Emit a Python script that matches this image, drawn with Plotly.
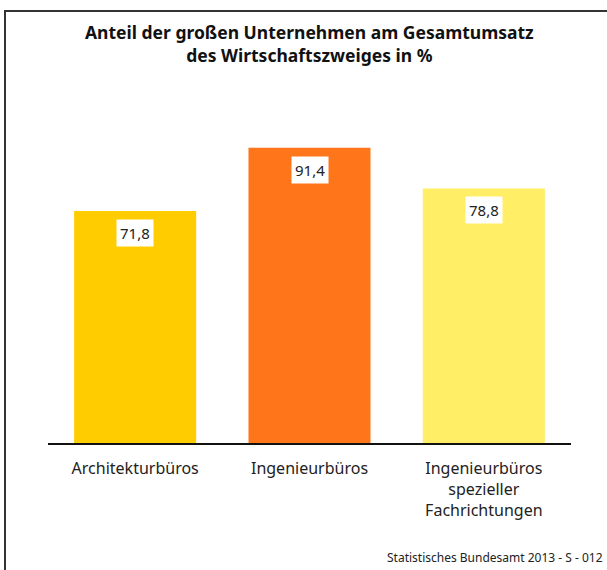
import plotly.graph_objects as go

categories = ["Architekturbüros", "Ingenieurbüros", "Ingenieurbüros<br>spezieller<br>Fachrichtungen"]
values = [71.8, 91.4, 78.8]
value_labels = ["71,8", "91,4", "78,8"]
colors = ["#FFCC00", "#FF761A", "#FFEE66"]

FONT = "Noto Sans"

fig = go.Figure()
fig.add_trace(go.Bar(
    x=categories, y=values, marker=dict(color=colors, line=dict(width=0)),
    width=0.7, hoverinfo="skip",
))

for c, v, t in zip(categories, values, value_labels):
    fig.add_annotation(
        x=c, y=v, xref="x", yref="y", text=t, showarrow=False,
        yanchor="top", yshift=-8, bgcolor="white", borderpad=3,
        font=dict(family=FONT, size=15, color="#222"),
    )

fig.add_annotation(
    x=0.5, y=(443 - 18) / 323, xref="paper", yref="paper",
    text="<b>Anteil der großen Unternehmen am Gesamtumsatz<br>des Wirtschaftszweiges in %</b>",
    showarrow=False, yanchor="top", xanchor="center",
    font=dict(family=FONT, size=17.5, color="#111"),
)

fig.add_annotation(
    x=(605 - 48) / 523, y=(443 - 568) / 323, xref="paper", yref="paper",
    text="Statistisches Bundesamt 2013 - S - 012", showarrow=False,
    xanchor="right", yanchor="bottom",
    font=dict(family=FONT, size=12, color="#222"),
)

# outer frame
fig.add_shape(
    type="rect", xref="paper", yref="paper",
    x0=(5 - 48) / 523, x1=1.3, y0=-0.6, y1=(443 - 11) / 323,
    line=dict(color="#333", width=2), fillcolor="rgba(0,0,0,0)", layer="below",
)

fig.update_layout(
    width=607, height=570,
    margin=dict(l=48, r=36, t=120, b=127),
    paper_bgcolor="white", plot_bgcolor="white",
    showlegend=False,
    xaxis=dict(
        showline=True, linecolor="#111", linewidth=2, showgrid=False,
        ticks="", ticklabelstandoff=10,
        tickfont=dict(family=FONT, size=16, color="#222"),
        range=[-0.5, 2.5], fixedrange=True,
    ),
    yaxis=dict(
        range=[0, 100], showticklabels=False, showgrid=False,
        zeroline=False, showline=False, fixedrange=True,
    ),
)

fig.write_html(
    "out.html",
    config={"displayModeBar": False},
    post_script="document.body.style.margin='0';document.body.style.overflow='hidden';",
)
